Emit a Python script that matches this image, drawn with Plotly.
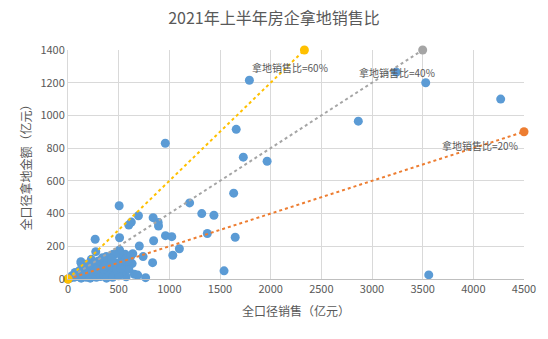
import plotly.graph_objects as go

# Company data: full-scope sales (x, 亿元) and land acquisition amount (y, 亿元)
sales = [960, 1790, 1660, 1730, 1965, 1200, 1320, 1440, 1375, 1635, 1650, 1540,
         2865, 3240, 3530, 4270, 3560,
         505, 695, 840, 625, 600, 890, 893, 509, 962, 1024, 845, 704, 1099, 1034,
         741, 639, 633, 835, 564, 535, 766, 655, 688, 574, 535, 509, 268, 274,
         447, 505, 127, 378, 460, 320, 411, 248, 183, 85, 130,
         40, 60, 100, 130, 150, 180, 200, 220, 250, 280, 300, 320, 350, 380, 400,
         420, 450, 470, 300, 350, 200, 230, 160, 110, 260, 340, 390, 430, 480,
         550, 600, 590, 620, 20, 70, 140, 170, 280, 440, 500, 360, 520, 479, 519]
land = [830, 1215, 915, 745, 720, 465, 400, 390, 278, 525, 255, 50,
        965, 1265, 1200, 1100, 25,
        448, 387, 375, 348, 330, 346, 324, 252, 265, 259, 234, 202, 185, 145,
        137, 155, 94, 100, 151, 126, 8, 29, 24, 14, 45, 177, 243, 167,
        151, 157, 106, 137, 151, 86, 86, 65, 45, 35, 96,
        20, 10, 15, 5, 25, 10, 30, 5, 20, 10, 40, 15, 25, 5, 50,
        30, 70, 100, 110, 60, 80, 120, 60, 50, 95, 130, 105, 120, 60,
        80, 60, 110, 140, 5, 40, 30, 90, 60, 10, 20, 80, 100, 59, 65]

# Reference ratio lines (land / sales)
ratio_names = ["拿地销售比=20%", "拿地销售比=40%", "拿地销售比=60%"]
ratio_x = [[0, 4500], [0, 3500], [0, 2333]]
ratio_y = [[0, 900], [0, 1400], [0, 1400]]
ratio_colors = ["#ED7D31", "#A5A5A5", "#FFC000"]
label_x = [4070, 3249, 2192]
label_y = [819, 1265, 1296]

x_ticks = [0, 500, 1000, 1500, 2000, 2500, 3000, 3500, 4000, 4500]
y_ticks = [0, 200, 400, 600, 800, 1000, 1200, 1400]

FONT = "Noto Sans CJK SC"
TXT = "#595959"

fig = go.Figure()
fig.add_trace(go.Scatter(x=sales, y=land, mode="markers",
                         marker=dict(color="#5B9BD5", size=9),
                         showlegend=False, cliponaxis=False))
for xs, ys, c in zip(ratio_x, ratio_y, ratio_colors):
    fig.add_trace(go.Scatter(x=xs, y=ys, mode="lines+markers",
                             line=dict(color=c, width=2, dash="dot"),
                             marker=dict(color=c, size=9),
                             showlegend=False, cliponaxis=False))
for name, lx, ly in zip(ratio_names, label_x, label_y):
    fig.add_annotation(x=lx, y=ly, text=name, showarrow=False,
                       font=dict(family=FONT, size=10, color=TXT))

fig.update_layout(
    width=548, height=339,
    margin=dict(l=68, r=15, t=50, b=60),
    paper_bgcolor="white", plot_bgcolor="white",
    title=dict(text="2021年上半年房企拿地销售比", x=0.5, xanchor="center",
               y=0.945, yanchor="middle",
               font=dict(family=FONT, size=16, color=TXT)),
    font=dict(family=FONT, color=TXT, size=11),
)
fig.update_xaxes(range=[0, 4500], tickvals=x_ticks, showgrid=True,
                 gridcolor="#D9D9D9", gridwidth=1, zeroline=False,
                 showline=True, linecolor="#BFBFBF", linewidth=1,
                 ticks="", tickfont=dict(size=11, color=TXT),
                 title=dict(text="全口径销售（亿元）", standoff=12,
                            font=dict(size=12, color=TXT)))
fig.update_yaxes(range=[0, 1400], tickvals=y_ticks, showgrid=True,
                 gridcolor="#D9D9D9", gridwidth=1, zeroline=False,
                 showline=True, linecolor="#D9D9D9", linewidth=1,
                 ticks="", tickfont=dict(size=11, color=TXT),
                 title=dict(text="全口径拿地金额（亿元）", standoff=6,
                            font=dict(size=12, color=TXT)))

fig.write_html("out.html")
